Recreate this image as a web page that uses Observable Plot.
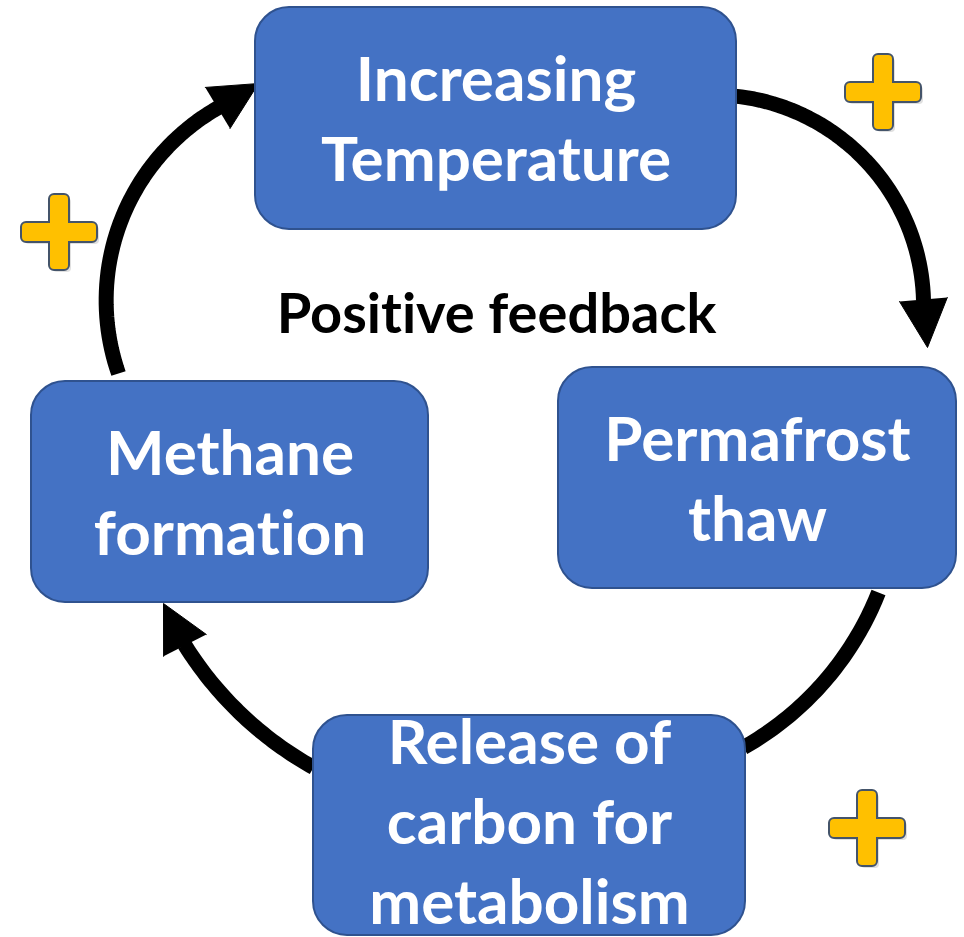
<!DOCTYPE html>
<html>
<head>
<meta charset="utf-8">
<script src="https://cdn.jsdelivr.net/npm/d3@7"></script>
<script src="https://cdn.jsdelivr.net/npm/@observablehq/plot@0.6"></script>
<style>
  html, body { margin: 0; padding: 0; background: #ffffff; }
  #chart svg { display: block; }
  #chart svg text { font-variant-ligatures: none; font-feature-settings: "liga" 0, "clig" 0; }
</style>
</head>
<body>
<div id="chart"></div>
<script>
// ---- Diagram data (pixel-space coordinates) ----
const nodeLabels   = ["Increasing\nTemperature", "Permafrost\nthaw", "Release of\ncarbon for\nmetabolism", "Methane\nformation"];
const nodeX1       = [255, 558, 313, 31];
const nodeX2       = [736, 956, 745, 428];
const nodeY1       = [7, 367, 715, 381];
const nodeY2       = [229, 588, 935, 602];
const nodeBaseline = [180, 540, 923, 554];   // baseline of each label's last line

const centerLabel  = ["Positive feedback"];
const centerX      = [496];
const centerY      = [332];

// each arrow shaft is a circular arc through start, middle and end points
const arrowIds    = ["temp→thaw", "thaw→carbon", "carbon→methane", "methane→temp"];
const arrowStart  = [[728, 95], [878, 592], [313, 767], [118, 373]];
const arrowMiddle = [[855, 150], [833, 670], [241, 714], [118, 227]];
const arrowEnd    = [[923, 300], [743, 747], [184, 644], [218, 107]];
const arrowTips   = [[927, 347], null, [163, 603], [258, 83]];

const plusCX = [883, 59, 867];
const plusCY = [92, 232, 828];

// ---- geometry helpers ----
const W = 964, H = 937;
function circleThrough([ax, ay], [bx, by], [cx, cy]) {
  const d = 2 * (ax * (by - cy) + bx * (cy - ay) + cx * (ay - by));
  const a2 = ax * ax + ay * ay, b2 = bx * bx + by * by, c2 = cx * cx + cy * cy;
  const ux = (a2 * (by - cy) + b2 * (cy - ay) + c2 * (ay - by)) / d;
  const uy = (a2 * (cx - bx) + b2 * (ax - cx) + c2 * (bx - ax)) / d;
  return [ux, uy, Math.hypot(ax - ux, ay - uy)];
}
function arcPoints(s, m, e, n = 48) {
  const [ux, uy, r] = circleThrough(s, m, e);
  const a0 = Math.atan2(s[1] - uy, s[0] - ux);
  let am = Math.atan2(m[1] - uy, m[0] - ux);
  let a1 = Math.atan2(e[1] - uy, e[0] - ux);
  const norm = a => { while (a < a0) a += 2 * Math.PI; while (a >= a0 + 2 * Math.PI) a -= 2 * Math.PI; return a; };
  am = norm(am); a1 = norm(a1);
  if (am > a1) a1 -= 2 * Math.PI;
  return d3.range(n + 1).map(i => {
    const t = a0 + (a1 - a0) * i / n;
    return [ux + r * Math.cos(t), uy + r * Math.sin(t)];
  });
}

// ---- build tables ----
const nodes = nodeLabels.map((label, i) => ({
  label, x1: nodeX1[i], x2: nodeX2[i], y1: nodeY1[i], y2: nodeY2[i],
  cx: (nodeX1[i] + nodeX2[i]) / 2, base: nodeBaseline[i]
}));

const shaftRows = arrowIds.flatMap((id, i) =>
  arcPoints(arrowStart[i], arrowMiddle[i], arrowEnd[i]).map(([x, y]) => ({id, x, y})));

const headHalf = 24;
const headRows = arrowIds.flatMap((id, i) => {
  const tip = arrowTips[i];
  if (!tip) return [];
  const [bx, by] = arrowEnd[i];
  const dx = tip[0] - bx, dy = tip[1] - by, L = Math.hypot(dx, dy);
  const nx = -dy / L, ny = dx / L;
  const bx2 = bx - dx / L, by2 = by - dy / L;
  return [
    {id, x: bx2 + nx * headHalf, y: by2 + ny * headHalf},
    {id, x: tip[0], y: tip[1]},
    {id, x: bx2 - nx * headHalf, y: by2 - ny * headHalf}
  ];
});

const armHalf = 9, spanHalf = 37;
const plusBars = plusCX.flatMap((cx, i) => {
  const cy = plusCY[i];
  return [
    {x1: cx - armHalf, x2: cx + armHalf, y1: cy - spanHalf, y2: cy + spanHalf},
    {x1: cx - spanHalf, x2: cx + spanHalf, y1: cy - armHalf, y2: cy + armHalf}
  ];
});
const plusShadow = plusBars.map(d => ({x1: d.x1 + 3, x2: d.x2 + 3, y1: d.y1 + 3, y2: d.y2 + 3}));

const fontFam = "Lato, 'Open Sans', sans-serif";
const labelSize = 62;

const chart = Plot.plot({
  width: W,
  height: H,
  margin: 0,
  x: {domain: [0, W], range: [0, W], axis: null},
  y: {domain: [0, H], range: [0, H], axis: null},
  style: {background: "#ffffff", overflow: "visible"},
  marks: [
    Plot.line(shaftRows, {x: "x", y: "y", z: "id", stroke: "#000000", strokeWidth: 15, strokeLinecap: "butt"}),
    Plot.line(headRows, {x: "x", y: "y", z: "id", fill: "#000000", stroke: "#000000", strokeWidth: 1, strokeLinejoin: "miter"}),
    Plot.rect(nodes, {x1: "x1", x2: "x2", y1: "y1", y2: "y2", rx: 34, fill: "#4472C4", stroke: "#2F528F", strokeWidth: 2}),
    Plot.text(nodes, {x: "cx", y: "base", text: "label", lineAnchor: "bottom", lineHeight: 80 / labelSize,
      fontSize: labelSize, fontWeight: "bold", fontFamily: fontFam, fill: "#ffffff"}),
    Plot.text(centerLabel, {x: centerX, y: centerY, text: d => d, lineAnchor: "bottom",
      fontSize: 56, fontWeight: "bold", fontFamily: fontFam, fill: "#000000"}),
    Plot.rect(plusShadow, {x1: "x1", x2: "x2", y1: "y1", y2: "y2", rx: 4, fill: "#000000", fillOpacity: 0.12}),
    Plot.rect(plusBars, {x1: "x1", x2: "x2", y1: "y1", y2: "y2", rx: 4, fill: "#FFC000", stroke: "#44546A", strokeWidth: 4}),
    Plot.rect(plusBars, {x1: "x1", x2: "x2", y1: "y1", y2: "y2", rx: 4, fill: "#FFC000"})
  ]
});
document.getElementById("chart").appendChild(chart);
</script>
</body>
</html>
